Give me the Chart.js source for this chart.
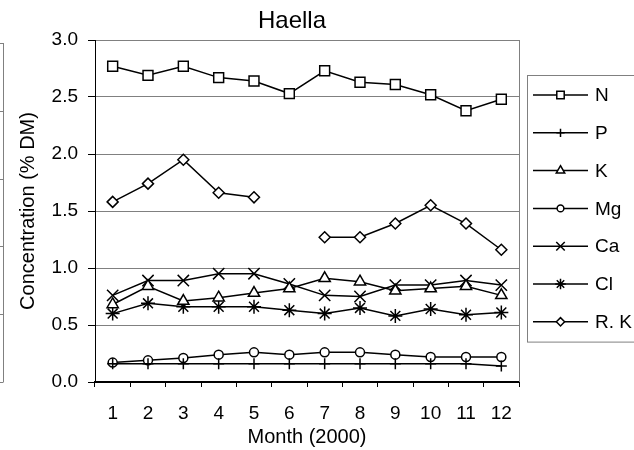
<!DOCTYPE html>
<html>
<head>
<meta charset="utf-8">
<title>Haella</title>
<script src="https://cdn.jsdelivr.net/npm/chart.js@4/dist/chart.umd.min.js"></script>
<style>
html, body { margin: 0; padding: 0; background: #fff; }
#chart-box { width: 634px; height: 450px; }
</style>
</head>
<body>
<div id="chart-box"><canvas id="my-chart" width="634" height="450"></canvas></div>
<script>
const months = ["1", "2", "3", "4", "5", "6", "7", "8", "9", "10", "11", "12"];
const seriesNames = ["N", "P", "K", "Mg", "Ca", "Cl", "R. K"];
const nValues = [2.77, 2.69, 2.77, 2.67, 2.64, 2.53, 2.73, 2.63, 2.61, 2.52, 2.38, 2.48];
const pValues = [0.16, 0.16, 0.16, 0.16, 0.16, 0.16, 0.16, 0.16, 0.16, 0.16, 0.16, 0.14];
const kValues = [0.68, 0.84, 0.71, 0.74, 0.78, 0.82, 0.91, 0.88, 0.80, 0.82, 0.84, 0.76];
const mgValues = [0.17, 0.19, 0.21, 0.24, 0.26, 0.24, 0.26, 0.26, 0.24, 0.22, 0.22, 0.22];
const caValues = [0.76, 0.89, 0.89, 0.95, 0.95, 0.86, 0.76, 0.75, 0.85, 0.85, 0.89, 0.85];
const clValues = [0.60, 0.69, 0.66, 0.66, 0.66, 0.63, 0.60, 0.65, 0.58, 0.64, 0.59, 0.61];
const rkValues = [1.58, 1.74, 1.95, 1.66, 1.62, null, 1.27, 1.27, 1.39, 1.55, 1.39, 1.16];
const yTicks = [0, 0.5, 1.0, 1.5, 2.0, 2.5, 3.0];

const fontFamily = "Arial, 'Liberation Sans', sans-serif";
const chartCanvas = document.getElementById("my-chart");

function makeSeries(label, values, style, radius) {
    return {
        label: label,
        data: values,
        borderColor: "#000",
        backgroundColor: "#fff",
        borderWidth: 1.5,
        pointStyle: style,
        pointRadius: radius,
        pointBorderWidth: 1.5,
        pointBorderColor: "#000",
        pointBackgroundColor: "#fff",
        tension: 0,
        spanGaps: false
    };
}

// title drawn over the plot, a bit left of centre like the original
const titlePlugin = {
    id: "titlePlugin",
    afterDraw(chart) {
        const ctx = chart.ctx;
        const area = chart.chartArea;
        ctx.save();
        ctx.font = "24px " + fontFamily;
        ctx.fillStyle = "#000";
        ctx.textAlign = "center";
        ctx.textBaseline = "alphabetic";
        ctx.fillText("Haella", (area.left + area.right) / 2 - 15, area.top - 12);
        ctx.restore();
    }
};

// right and top frame of the plot area + cut off frame of the neighbour chart
const framePlugin = {
    id: "framePlugin",
    afterDatasetsDraw(chart) {
        const ctx = chart.ctx;
        const area = chart.chartArea;
        ctx.save();
        ctx.strokeStyle = "#808080";
        ctx.lineWidth = 1;
        ctx.beginPath();
        ctx.moveTo(Math.round(area.right) + 0.5, area.top);
        ctx.lineTo(Math.round(area.right) + 0.5, area.bottom);
        ctx.stroke();
        let top = area.top + 3;
        let step = (area.bottom - top) / 5;
        ctx.beginPath();
        ctx.moveTo(3.5, top);
        ctx.lineTo(3.5, area.bottom);
        for (let i = 0; i <= 5; i++) {
            let y = Math.round(top + i * step) + 0.5;
            ctx.moveTo(0, y);
            ctx.lineTo(3.5, y);
        }
        ctx.stroke();
        ctx.restore();
    }
};

const legendPlugin = {
    id: "legendPlugin",
    afterDraw(chart) {
        const ctx = chart.ctx;
        const area = chart.chartArea;
        const sets = chart.data.datasets;
        const left = Math.round(area.right) + 8;
        const top = Math.round(area.top) + 35;
        const rowHeight = 37.8;
        const boxHeight = rowHeight * sets.length + 2;
        ctx.save();
        ctx.fillStyle = "#fff";
        ctx.fillRect(left + 0.5, top + 0.5, chart.width, boxHeight);
        ctx.strokeStyle = "#808080";
        ctx.lineWidth = 1;
        ctx.strokeRect(left + 0.5, top + 0.5, chart.width, boxHeight);
        sets.forEach(function(ds, i) {
            let y = top + 20 + i * rowHeight;
            ctx.strokeStyle = "#000";
            ctx.lineWidth = 1.5;
            ctx.beginPath();
            ctx.moveTo(left + 6, y);
            ctx.lineTo(left + 61, y);
            ctx.stroke();
            ctx.fillStyle = "#fff";
            Chart.helpers.drawPoint(ctx, {
                pointStyle: ds.pointStyle,
                rotation: 0,
                radius: ds.pointRadius * 0.75,
                borderWidth: 1.5
            }, left + 33.5, y);
            ctx.fillStyle = "#000";
            ctx.font = "19px " + fontFamily;
            ctx.textAlign = "left";
            ctx.textBaseline = "middle";
            ctx.fillText(ds.label, left + 68, y + 1);
        });
        ctx.restore();
    }
};

new Chart(chartCanvas.getContext("2d"), {
    type: "line",
    data: {
        labels: months,
        datasets: [
            makeSeries(seriesNames[0], nValues, "rect", 7),
            makeSeries(seriesNames[1], pValues, "cross", 5.5),
            makeSeries(seriesNames[2], kValues, "triangle", 6.5),
            makeSeries(seriesNames[3], mgValues, "circle", 4.5),
            makeSeries(seriesNames[4], caValues, "crossRot", 8),
            makeSeries(seriesNames[5], clValues, "star", 7),
            makeSeries(seriesNames[6], rkValues, "rectRot", 5.5)
        ]
    },
    options: {
        responsive: false,
        animation: false,
        layout: { padding: { top: 40, right: 115, left: 0, bottom: 0 } },
        plugins: {
            legend: { display: false },
            title: { display: false },
            tooltip: { enabled: false }
        },
        scales: {
            x: {
                type: "category",
                offset: true,
                afterFit: function(scale) { scale.height = 68; },
                grid: {
                    offset: true,
                    drawOnChartArea: false,
                    drawTicks: true,
                    tickLength: 5,
                    tickColor: "#000",
                    tickWidth: 1
                },
                border: { display: true, color: "#000", width: 2 },
                ticks: {
                    color: "#000",
                    padding: 15,
                    maxRotation: 0,
                    font: { family: fontFamily, size: 19 }
                },
                title: {
                    display: true,
                    text: "Month (2000)",
                    color: "#000",
                    padding: { top: 0, bottom: 1 },
                    font: { family: fontFamily, size: 20 }
                }
            },
            y: {
                min: 0,
                max: 3,
                afterFit: function(scale) { scale.width = 95; },
                afterBuildTicks: function(scale) {
                    scale.ticks = yTicks.map(function(v) { return { value: v }; });
                },
                grid: {
                    color: "#808080",
                    lineWidth: 1,
                    drawTicks: true,
                    tickLength: 7,
                    tickColor: "#000"
                },
                border: { display: true, color: "#000", width: 1 },
                ticks: {
                    color: "#000",
                    padding: 10,
                    font: { family: fontFamily, size: 19 },
                    callback: function(value) { return Number(value).toFixed(1); }
                },
                title: {
                    display: true,
                    text: "Concentration (% DM)",
                    color: "#000",
                    padding: { top: 16, bottom: 0 },
                    font: { family: fontFamily, size: 20 }
                }
            }
        }
    },
    plugins: [framePlugin, titlePlugin, legendPlugin]
});
</script>
</body>
</html>
